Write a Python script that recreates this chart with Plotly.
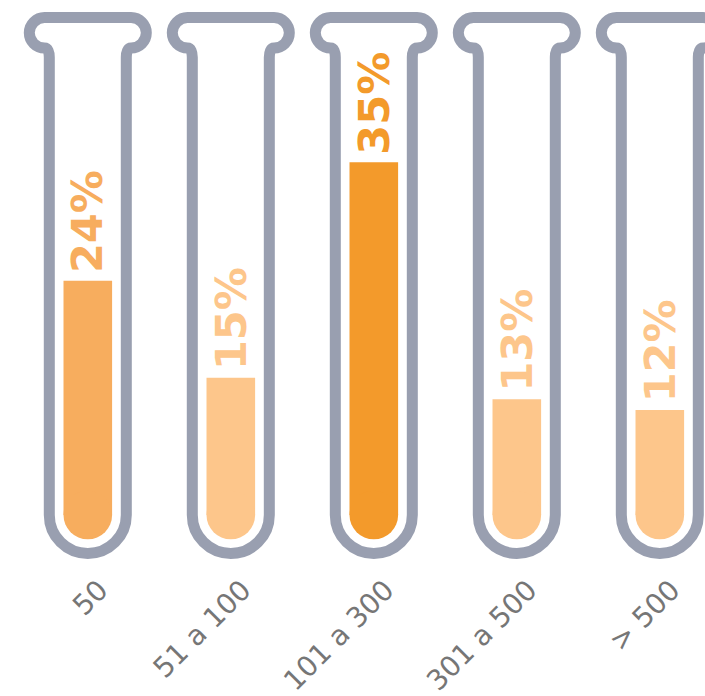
import plotly.graph_objects as go

# Company size bands and share of respondents in each (%)
categories = ["50", "51 a 100", "101 a 300", "301 a 500", "> 500"]
shares = [24, 15, 35, 13, 12]
value_labels = ["24%", "15%", "35%", "13%", "12%"]

bar_colors = ["#F7AD5E", "#FDC68B", "#F39A2B", "#FDC68B", "#FDC68B"]
tube_color = "#999FB0"
tick_color = "#767676"

W, H = 705, 696
MARGIN_B = 130
X_RANGE = [-0.614, 4.316]
Y_RANGE = [-2.479, 50.074]

# pixels per data unit on each axis (used to shape the test tubes)
SX = W / (X_RANGE[1] - X_RANGE[0])
SY = (H - MARGIN_B) / (Y_RANGE[1] - Y_RANGE[0])

BAR_PX = 48.6                      # width of the liquid column
R_DATA = (BAR_PX / 2) / SY         # radius of its rounded bottom, in y units

positions = list(range(len(categories)))


def tube_path(cx):
    """Outline of a test tube, designed in pixels around the tube's axis."""
    k = 0.5523
    hw = 38.5          # half width of the tube (stroke centre)
    yb = 24.3          # centre of the rounded bottom, px above the baseline
    wall_top = 482.0   # where the wall meets the lip
    lip_mid = 506.5    # vertical centre of the lip roll
    lr = 15.25         # radius of the lip roll
    lx = 43.25         # horizontal centre of each lip roll

    def p(x, y):
        return f"{cx + x / SX:.5f},{y / SY:.5f}"

    segs = [
        "M" + p(-hw, wall_top),
        "L" + p(-hw, yb),
        "C" + p(-hw, yb - hw * k) + " " + p(-hw * k, yb - hw) + " " + p(0, yb - hw),
        "C" + p(hw * k, yb - hw) + " " + p(hw, yb - hw * k) + " " + p(hw, yb),
        "L" + p(hw, wall_top),
        "C" + p(hw, wall_top + 5) + " " + p(hw + 1.5, lip_mid - lr) + " " + p(lx, lip_mid - lr),
        "C" + p(lx + lr * k, lip_mid - lr) + " " + p(lx + lr, lip_mid - lr * k) + " " + p(lx + lr, lip_mid),
        "C" + p(lx + lr, lip_mid + lr * k) + " " + p(lx + lr * k, lip_mid + lr) + " " + p(lx, lip_mid + lr),
        "L" + p(-lx, lip_mid + lr),
        "C" + p(-lx - lr * k, lip_mid + lr) + " " + p(-lx - lr, lip_mid + lr * k) + " " + p(-lx - lr, lip_mid),
        "C" + p(-lx - lr, lip_mid - lr * k) + " " + p(-lx - lr * k, lip_mid - lr) + " " + p(-lx, lip_mid - lr),
        "C" + p(-hw - 1.5, lip_mid - lr) + " " + p(-hw, wall_top + 5) + " " + p(-hw, wall_top),
        "Z",
    ]
    return " ".join(segs)


fig = go.Figure()

# liquid column: straight part from the value down to the centre of the rounded bottom
fig.add_trace(go.Bar(
    x=positions,
    base=[R_DATA] * len(shares),
    y=[v - R_DATA for v in shares],
    width=BAR_PX / SX,
    marker=dict(color=bar_colors, line=dict(width=0)),
    hoverinfo="skip",
    showlegend=False,
))

# rounded bottom of each liquid column
fig.add_trace(go.Scatter(
    x=positions,
    y=[R_DATA] * len(shares),
    mode="markers",
    marker=dict(size=BAR_PX, color=bar_colors, line=dict(width=0), symbol="circle"),
    hoverinfo="skip",
    showlegend=False,
))

shapes = [
    dict(type="path", xref="x", yref="y", path=tube_path(cx),
         line=dict(color=tube_color, width=11), fillcolor="rgba(0,0,0,0)", layer="above")
    for cx in positions
]

annotations = [
    dict(x=cx, y=v, xref="x", yref="y", text=f"<b>{t}</b>", showarrow=False,
         textangle=-90, xanchor="center", yanchor="bottom", yshift=6,
         font=dict(family="DejaVu Sans", size=43, color=c))
    for cx, v, t, c in zip(positions, shares, value_labels, bar_colors)
]

fig.update_layout(
    width=W, height=H,
    margin=dict(l=0, r=0, t=0, b=MARGIN_B, pad=0, autoexpand=False),
    paper_bgcolor="white", plot_bgcolor="white",
    shapes=shapes,
    annotations=annotations,
    xaxis=dict(
        range=X_RANGE, tickmode="array", tickvals=positions, ticktext=categories,
        tickangle=-45, showgrid=False, zeroline=False, showline=False, ticks="",
        tickfont=dict(family="DejaVu Sans", size=28, color=tick_color),
        ticklabelshift=12, ticklabelstandoff=1, automargin=False, fixedrange=True,
    ),
    yaxis=dict(range=Y_RANGE, visible=False, showgrid=False, zeroline=False,
               automargin=False, fixedrange=True),
)

fig.write_html("out.html")
